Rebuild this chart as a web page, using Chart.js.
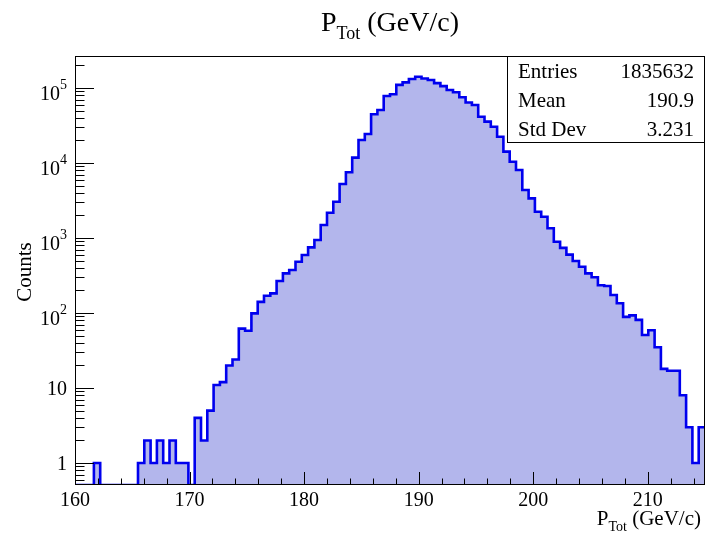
<!DOCTYPE html>
<html>
<head>
<meta charset="utf-8">
<title>P_Tot (GeV/c)</title>
<script src="https://cdn.jsdelivr.net/npm/chart.js@4.4.1/dist/chart.umd.min.js"></script>
<style>
    html, body { margin: 0; padding: 0; background: #fff; }
</style>
</head>
<body>
<canvas id="chart" width="707" height="536"></canvas>
<script>
// histogram binning: 100 bins from 160 to 215 GeV/c
const xMin = 160;
const xMax = 215;
const nBins = 100;

const counts = [
    0, 0, 0, 1, 0, 0, 0, 0, 0, 0,
    1, 2, 1, 2, 1, 2, 1, 1, 0, 4,
    2, 5, 11, 12, 20, 24, 62, 58, 99, 141,
    170, 183, 267, 338, 374, 483, 593, 751, 940, 1490,
    2170, 3050, 5250, 7520, 11800, 20300, 24400, 44600, 50900, 78200,
    82400, 110000, 119000, 132000, 141000, 134000, 128000, 116000, 106000, 94000,
    87700, 75200, 64000, 59300, 41400, 35600, 30500, 22400, 14200, 10400,
    8070, 4370, 3380, 2240, 1920, 1350, 893, 740, 600, 494,
    414, 338, 300, 235, 229, 174, 135, 89, 93, 81,
    51, 59, 35, 18, 17, 17, 8, 3, 1, 3
];

// axes
const xTicks = [160, 170, 180, 190, 200, 210];
const yTicks = [1, 10, 100, 1000, 10000, 100000];
const yTickBase = ["1", "10", "10", "10", "10", "10"];
const yTickExp = ["", "", "2", "3", "4", "5"];
const yMin = 0.51;
const yMax = 2.67e5;

// stats box
const statNames = ["Entries", "Mean", "Std Dev"];
const statValues = ["1835632", "190.9", "3.231"];

const FONT = "'Liberation Serif', 'Times New Roman', serif";


///////////////////////////////////////////////////////////////////////////////
// build step points: one at each lower bin edge + closing point at xMax
function buildPoints()
{
    let pts = [];
    let w = (xMax - xMin) / nBins;
    for(let i = 0; i < nBins; ++i)
    {
        let v = counts[i] > 0 ? counts[i] : yMin;   // empty bins sit on the floor
        pts.push({x: xMin + i * w, y: v});
    }
    pts.push({x: xMax, y: pts[pts.length - 1].y});
    return pts;
}


///////////////////////////////////////////////////////////////////////////////
// draw "P_Tot (GeV/c)" with a subscript
function drawPTot(ctx, x, baseline, size, align)
{
    let sub = Math.round(size * 0.66);
    ctx.font = size + "px " + FONT;
    let wP = ctx.measureText("P").width;
    let wRest = ctx.measureText(" (GeV/c)").width;
    ctx.font = sub + "px " + FONT;
    let wSub = ctx.measureText("Tot").width;
    let total = wP + wSub + wRest;
    let left = align === "center" ? x - total / 2 : (align === "right" ? x - total : x);

    ctx.textAlign = "left";
    ctx.textBaseline = "alphabetic";
    ctx.fillStyle = "#000";
    ctx.font = size + "px " + FONT;
    ctx.fillText("P", left, baseline);
    ctx.font = sub + "px " + FONT;
    ctx.fillText("Tot", left + wP, baseline + size * 0.28);
    ctx.font = size + "px " + FONT;
    ctx.fillText(" (GeV/c)", left + wP + wSub, baseline);
}


///////////////////////////////////////////////////////////////////////////////
// ROOT-like frame, inner ticks, log labels, titles and stats box
const rootDecor =
{
    id: "rootDecor",
    afterDatasetsDraw(chart)
    {
        const ctx = chart.ctx;
        const a = chart.chartArea;
        const sx = chart.scales.x;
        const sy = chart.scales.y;

        ctx.save();
        ctx.strokeStyle = "#000";
        ctx.lineWidth = 1;
        ctx.strokeRect(a.left + 0.5, a.top + 0.5, a.right - a.left - 1, a.bottom - a.top - 1);

        ctx.beginPath();
        // x ticks: major every 10, minor every 2
        for(let v = xMin; v < xMax; v += 2)
        {
            let px = Math.round(sx.getPixelForValue(v)) + 0.5;
            let len = (v % 10 === 0) ? 13 : 6.5;
            ctx.moveTo(px, a.bottom);
            ctx.lineTo(px, a.bottom - len);
        }
        // y ticks: decades + 2..9 minors
        for(let e = -1; e <= 5; ++e)
        {
            for(let k = 1; k <= 9; ++k)
            {
                let v = k * Math.pow(10, e);
                if(v < yMin || v > yMax) continue;
                let py = Math.round(sy.getPixelForValue(v)) + 0.5;
                let len = (k === 1) ? 19 : 9.5;
                ctx.moveTo(a.left, py);
                ctx.lineTo(a.left + len, py);
            }
        }
        ctx.stroke();

        // y labels with raised exponents
        ctx.fillStyle = "#000";
        ctx.textBaseline = "alphabetic";
        ctx.textAlign = "right";
        for(let i = 0; i < yTicks.length; ++i)
        {
            let py = sy.getPixelForValue(yTicks[i]);
            let right = 67;
            if(yTickExp[i])
            {
                ctx.font = "14px " + FONT;
                ctx.fillText(yTickExp[i], right, py + 1);
                right -= ctx.measureText(yTickExp[i]).width;
                ctx.font = "20px " + FONT;
                ctx.fillText(yTickBase[i], right, py + 12);
            }
            else
            {
                ctx.font = "20px " + FONT;
                ctx.fillText(yTickBase[i], right, py + 7);
            }
        }

        // titles
        drawPTot(ctx, (a.left + a.right) / 2, 31, 28, "center");
        drawPTot(ctx, 701, 525, 21, "right");

        ctx.save();
        ctx.translate(25, 272);
        ctx.rotate(-Math.PI / 2);
        ctx.font = "21px " + FONT;
        ctx.textAlign = "center";
        ctx.textBaseline = "middle";
        ctx.fillText("Counts", 0, 0);
        ctx.restore();

        // stats box
        let bx = 507, by = 56, bw = 198, bh = 87;
        ctx.fillStyle = "#fff";
        ctx.fillRect(bx, by, bw, bh);
        ctx.strokeRect(bx + 0.5, by + 0.5, bw - 1, bh - 1);
        ctx.fillStyle = "#000";
        ctx.font = "21px " + FONT;
        ctx.textBaseline = "alphabetic";
        for(let i = 0; i < statNames.length; ++i)
        {
            let base = 78 + i * 29;
            ctx.textAlign = "left";
            ctx.fillText(statNames[i], 518, base);
            ctx.textAlign = "right";
            ctx.fillText(statValues[i], 694, base);
        }
        ctx.restore();
    }
};


///////////////////////////////////////////////////////////////////////////////
document.addEventListener("DOMContentLoaded", e =>
{
    Chart.defaults.font.family = FONT;
    Chart.defaults.color = "#000";

    let context = document.getElementById("chart").getContext("2d");
    new Chart(context,
    {
        type: "line",
        data:
        {
            datasets:
            [{
                data: buildPoints(),
                stepped: "before",          // bin value holds until next edge
                borderColor: "#0000ee",
                borderWidth: 2.6,
                backgroundColor: "#b3b6ec",
                fill: "start",
                pointRadius: 0,
                tension: 0
            }]
        },
        options:
        {
            responsive: false,
            animation: false,
            layout: { padding: { top: 56, right: 2, left: 0, bottom: 0 } },
            plugins:
            {
                legend: { display: false },
                title: { display: false },
                tooltip: { enabled: false }
            },
            scales:
            {
                x:
                {
                    type: "linear",
                    min: xMin,
                    max: xMax,
                    afterBuildTicks: s => { s.ticks = xTicks.map(v => ({value: v})); },
                    afterFit: s => { s.height = 51; },
                    grid: { display: false, drawTicks: false },
                    border: { display: false },
                    ticks: { font: { size: 20 }, padding: 4, maxRotation: 0, autoSkip: false }
                },
                y:
                {
                    type: "logarithmic",
                    min: yMin,
                    max: yMax,
                    afterBuildTicks: s => { s.ticks = yTicks.map(v => ({value: v})); },
                    afterFit: s => { s.width = 75; },
                    grid: { display: false, drawTicks: false },
                    border: { display: false },
                    ticks: { display: false }     // labels drawn with exponents by rootDecor
                }
            }
        },
        plugins: [rootDecor]
    });
});
</script>
</body>
</html>
